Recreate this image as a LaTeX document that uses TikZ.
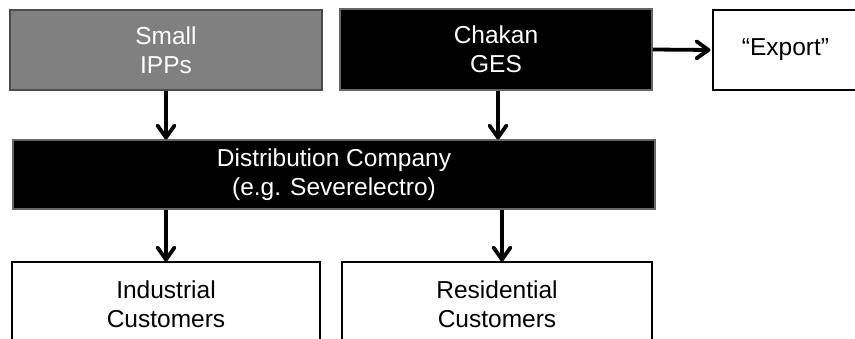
\documentclass[tikz,border=0pt]{standalone}
\usepackage{fontspec}
\setmainfont{Liberation Sans}
\usetikzlibrary{arrows.meta}
\begin{document}
\begin{tikzpicture}[x=1pt,y=1pt,
  box/.style={rectangle,draw,line width=1.2pt,align=center,inner sep=0pt,
    font=\fontsize{24.5}{29}\selectfont},
  graybox/.style={box,fill=black!50,draw=black!70,text=white,minimum width=312pt,minimum height=80pt},
  blackbox/.style={box,fill=black,draw=black!60,text=white},
  whitebox/.style={box,fill=white,draw=black,text=black},
  arr/.style={line width=3.8pt,-{Straight Barb[length=12pt,width=17pt,line cap=round,line join=round]}}
]
\useasboundingbox (0,0) rectangle (855,338);
\node[graybox] (ipp) at (166,288) {Small\\IPPs};
\node[blackbox,minimum width=312pt,minimum height=81pt] (chakan) at (496,288.5) {Chakan\\GES};
\node[whitebox,minimum width=145pt,minimum height=80pt] (export) at (785.5,288) {“Export”};
\node[blackbox,minimum width=642pt,minimum height=69pt] (dist) at (334,163.5) {Distribution Company\\(e.g. Severelectro)};
\node[whitebox,minimum width=308pt,minimum height=84pt] (ind) at (166,34) {Industrial\\Customers};
\node[whitebox,minimum width=310pt,minimum height=84pt] (res) at (497,34) {Residential\\Customers};
\draw[arr] (ipp.south) -- (ipp.south |- dist.north);
\draw[arr] ([xshift=2pt]chakan.south) -- ([xshift=2pt]chakan.south |- dist.north);
\draw[arr] (chakan.east) -- ([xshift=-2pt]export.west);
\draw[arr] (ind.north |- dist.south) -- (ind.north);
\draw[arr] ([xshift=5pt]res.north |- dist.south) -- ([xshift=5pt]res.north);
\end{tikzpicture}
\end{document}
